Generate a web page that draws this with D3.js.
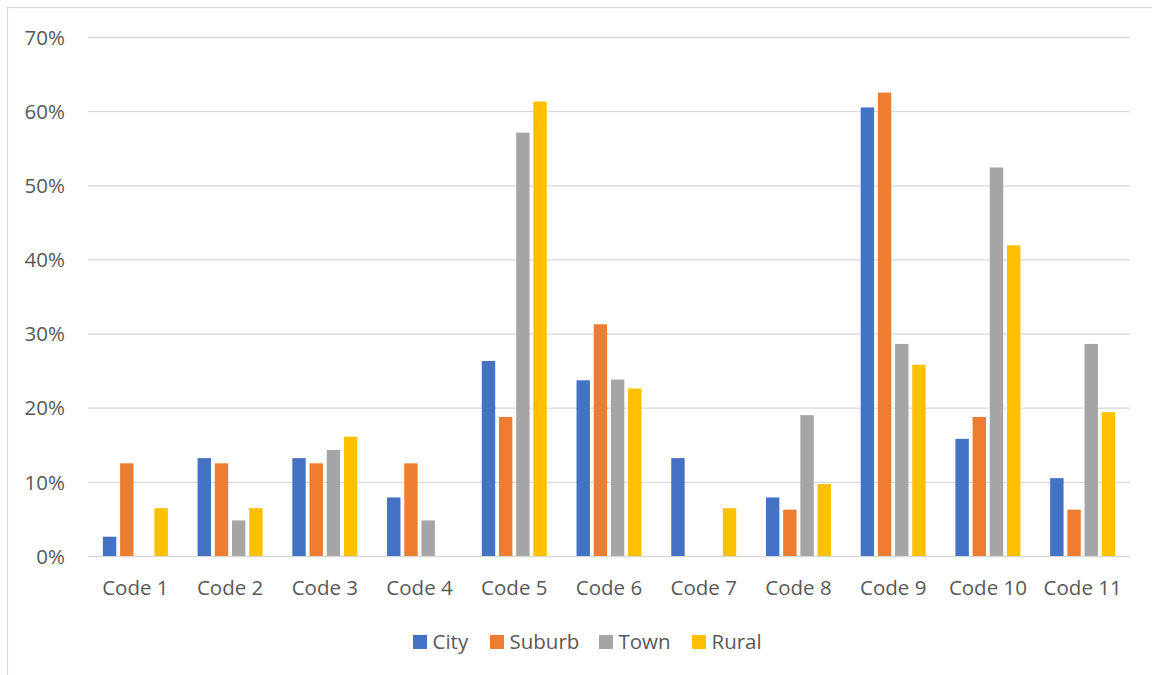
<!DOCTYPE html>
<html>
<head>
<meta charset="utf-8">
<script src="https://cdn.jsdelivr.net/npm/d3@7"></script>
<style>
  html, body { margin: 0; padding: 0; background: #fff; }
  svg { display: block; }
  text { font-family: "Open Sans", "Noto Sans", sans-serif; fill: #595959; }
</style>
</head>
<body>
<svg id="chart" width="1152" height="675"></svg>
<script>
const categories = ["Code 1","Code 2","Code 3","Code 4","Code 5","Code 6","Code 7","Code 8","Code 9","Code 10","Code 11"];
const seriesNames = ["City","Suburb","Town","Rural"];
const seriesColors = ["#4472C4","#ED7D31","#A5A5A5","#FFC000"];
const city   = [2.6, 13.2, 13.2, 7.9, 26.3, 23.7, 13.2, 7.9, 60.5, 15.8, 10.5];
const suburb = [12.5, 12.5, 12.5, 12.5, 18.75, 31.25, 0, 6.25, 62.5, 18.75, 6.25];
const town   = [0, 4.8, 14.3, 4.8, 57.1, 23.8, 0, 19.0, 28.6, 52.4, 28.6];
const rural  = [6.45, 6.45, 16.1, 0, 61.3, 22.6, 6.45, 9.7, 25.8, 41.9, 19.4];
const yTicks = [0, 10, 20, 30, 40, 50, 60, 70];

const seriesValues = [city, suburb, town, rural];
const data = categories.map((c, i) => ({
  cat: c,
  vals: seriesNames.map((s, j) => ({ key: s, value: seriesValues[j][i] }))
}));

const svg = d3.select("#chart");
const plotLeft = 88, plotRight = 1130, plotTop = 37, plotBottom = 556;
const fontSize = 20.5;

// outer frame (top and left edges visible)
svg.append("rect").attr("x", 7.5).attr("y", 7.5).attr("width", 1160).attr("height", 700)
  .attr("fill", "none").attr("stroke", "#d9d9d9").attr("stroke-width", 1.3);

const y = d3.scaleLinear().domain([0, 70]).range([plotBottom, plotTop]);
const x0 = d3.scaleBand().domain(categories).range([plotLeft, plotRight]).paddingInner(0.314).paddingOuter(0.157);
const x1 = d3.scaleBand().domain(seriesNames).range([0, x0.bandwidth()]).paddingInner(0.22);
const color = d3.scaleOrdinal().domain(seriesNames).range(seriesColors);

// gridlines
const yAxisGrid = d3.axisLeft(y).tickValues(yTicks).tickSize(-(plotRight - plotLeft)).tickFormat("");
const g = svg.append("g").attr("transform", `translate(${plotLeft},0)`).call(yAxisGrid);
g.select(".domain").remove();
g.selectAll("line").attr("stroke", "#d9d9d9").attr("stroke-width", 1.3);

// y labels
const yAxis = d3.axisLeft(y).tickValues(yTicks).tickSize(0).tickPadding(0).tickFormat(d => d + "%");
const ya = svg.append("g").attr("transform", `translate(65,0)`).call(yAxis);
ya.select(".domain").remove();
ya.selectAll("text").attr("font-size", fontSize).attr("fill", "#595959")
  .attr("font-family", "\"Open Sans\", sans-serif").attr("dy", "0.35em");

// bars
const groups = svg.append("g").selectAll("g").data(data).join("g")
  .attr("transform", d => `translate(${x0(d.cat)},0)`);
groups.selectAll("rect").data(d => d.vals).join("rect")
  .attr("x", d => x1(d.key))
  .attr("width", x1.bandwidth())
  .attr("y", d => y(d.value))
  .attr("height", d => y(0) - y(d.value))
  .attr("fill", d => color(d.key));

// x labels
const xAxis = d3.axisBottom(x0).tickSize(0).tickPadding(0);
const xa = svg.append("g").attr("transform", `translate(0,${plotBottom})`).call(xAxis);
xa.select(".domain").remove();
xa.selectAll("text").attr("font-size", fontSize).attr("fill", "#595959")
  .attr("font-family", "\"Open Sans\", sans-serif").attr("dy", null).attr("y", 39);

// legend
const legendX = [413, 490, 599, 692];
const legend = svg.append("g").selectAll("g").data(seriesNames).join("g")
  .attr("transform", (d, i) => `translate(${legendX[i]},635)`);
legend.append("rect").attr("width", 14).attr("height", 14).attr("fill", d => color(d));
legend.append("text").attr("x", 19.5).attr("y", 14).attr("font-size", fontSize).text(d => d);
</script>
</body>
</html>
